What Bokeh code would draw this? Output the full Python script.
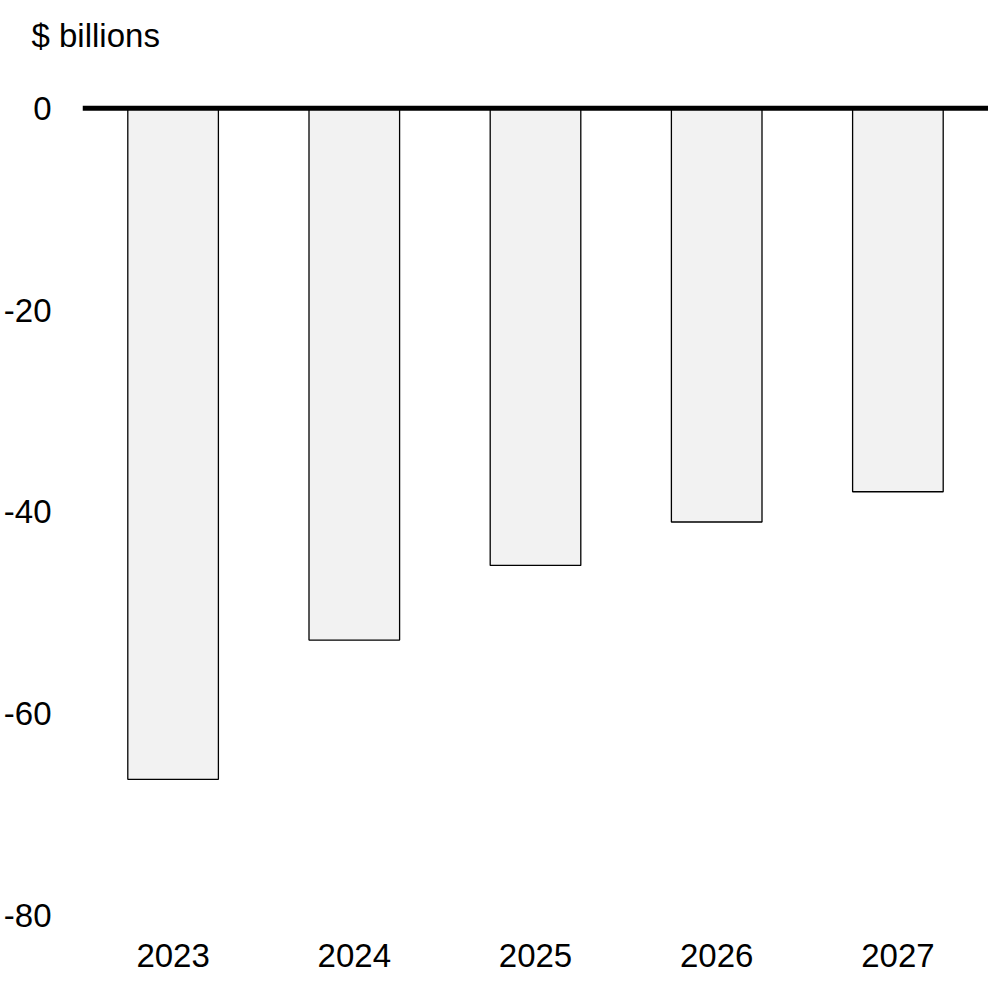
from bokeh.plotting import figure
from bokeh.models import Span, FixedTicker, Range1d
from bokeh.embed import file_html
from bokeh.resources import INLINE

years = ["2023", "2024", "2025", "2026", "2027"]
balance = [-66.5, -52.7, -45.3, -41.0, -38.0]
y_ticks = [0, -20, -40, -60, -80]
y_tick_labels = {t: str(t) for t in y_ticks}
unit_label = "$ billions"

FONT = "Liberation Sans"
FS = "33px"

p = figure(x_range=years, y_range=Range1d(-80, 4.05), width=988, height=969,
           output_backend="svg", toolbar_location=None, title=unit_label,
           min_border_left=75, min_border_right=0, min_border_top=0, min_border_bottom=10)

p.vbar(x=years, top=balance, bottom=0, width=0.5, fill_color="#f2f2f2",
       line_color="black", line_width=1.3)

p.add_layout(Span(location=0, dimension="width", line_color="black", line_width=5))

p.title.text_font = FONT
p.title.text_font_size = FS
p.title.text_font_style = "normal"
p.title.text_color = "black"
p.title.align = "left"
p.title.offset = -51
p.title.standoff = 28

p.outline_line_color = None
p.xgrid.grid_line_color = None
p.ygrid.grid_line_color = None

p.yaxis.ticker = FixedTicker(ticks=y_ticks)
p.yaxis.major_label_overrides = y_tick_labels
p.yaxis.axis_line_color = None
p.yaxis.major_tick_line_color = None
p.yaxis.minor_tick_line_color = None
p.yaxis.major_label_standoff = 25
p.yaxis.major_label_text_font = FONT
p.yaxis.major_label_text_font_size = FS
p.yaxis.major_label_text_color = "black"

p.xaxis.axis_line_color = None
p.xaxis.major_tick_line_color = None
p.xaxis.major_label_standoff = 22
p.xaxis.major_label_text_font = FONT
p.xaxis.major_label_text_font_size = FS
p.xaxis.major_label_text_color = "black"

p.x_range.range_padding = 0

open("out.html", "w").write(file_html(p, INLINE))
